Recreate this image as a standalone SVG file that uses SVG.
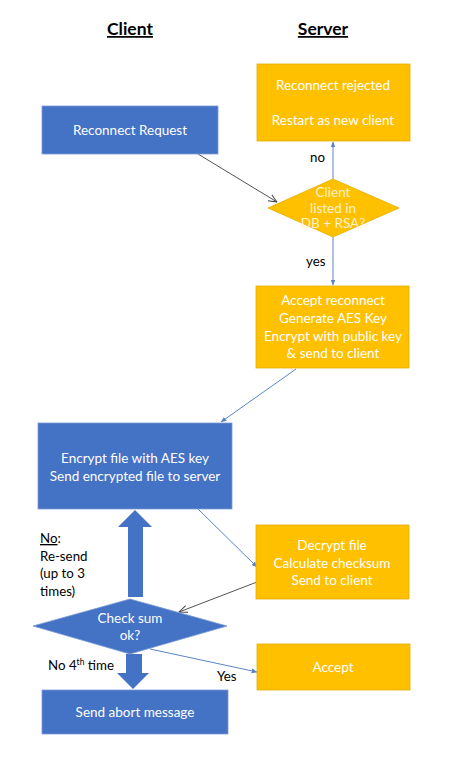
<svg xmlns="http://www.w3.org/2000/svg" width="471" height="766" viewBox="0 0 471 766">
<defs>
<style>
.t{font-family:Lato,"Open Sans","Liberation Sans",sans-serif;font-size:13.5px;fill:#fff;text-anchor:middle}
.tl{fill:#FFF2CC}
.lbl{font-family:Lato,"Open Sans","Liberation Sans",sans-serif;font-size:13.3px;fill:#000}
.h{font-family:Lato,"Open Sans","Liberation Sans",sans-serif;font-size:17.5px;font-weight:bold;fill:#000;text-anchor:middle;text-decoration:underline}
.blue{fill:#4472C4;stroke:#7A9BD6;stroke-width:0.8}
.org{fill:#FFC000;stroke:#E6AD00;stroke-width:0.8}
.cb{stroke:#5B84C8;stroke-width:1;fill:none}
.cg{stroke:#404040;stroke-width:0.9;fill:none}
</style>
<marker id="ab" viewBox="0 0 10 10" refX="9" refY="5" markerWidth="6" markerHeight="6" orient="auto" markerUnits="userSpaceOnUse">
<path d="M0,1 L10,5 L0,9 z" fill="#5B84C8"/>
</marker>
<marker id="ag" viewBox="0 0 10 10" refX="9.5" refY="5" markerWidth="9" markerHeight="9" orient="auto" markerUnits="userSpaceOnUse">
<path d="M0,1 L9.5,5 L0,9" fill="none" stroke="#404040" stroke-width="1.1"/>
</marker>
</defs>
<rect width="471" height="766" fill="#fff"/>
<g id="headings">
<text class="h" x="130" y="35">Client</text>
<text class="h" x="323" y="35">Server</text>
</g>
<g id="connectors">
<line class="cg" x1="198" y1="154" x2="277" y2="202" marker-end="url(#ag)"/>
<line class="cb" x1="333" y1="179" x2="333" y2="142" marker-end="url(#ab)"/>
<line class="cb" x1="333" y1="237" x2="333" y2="285" marker-end="url(#ab)"/>
<line class="cb" x1="296" y1="369" x2="221" y2="422" marker-end="url(#ab)"/>
<line class="cb" x1="198" y1="509" x2="257" y2="567" marker-end="url(#ab)"/>
<line class="cg" x1="257" y1="582" x2="179" y2="612" marker-end="url(#ag)"/>
<line class="cb" x1="150" y1="649" x2="257" y2="672" marker-end="url(#ab)"/>
<path id="resend-arrow" d="M128,597 L128,527 L118,527 L135,510 L152,527 L143,527 L143,597 Z" fill="#4472C4"/>
<path id="abort-arrow" d="M126,654 L126,673 L117,673 L133,689 L149,673 L142,673 L142,654 Z" fill="#4472C4"/>
</g>
<g id="labels">
<text class="lbl" x="310" y="162">no</text>
<text class="lbl" x="306" y="266">yes</text>
<text class="lbl" x="40" y="543"><tspan text-decoration="underline">No</tspan>:</text>
<text class="lbl" x="40" y="561">Re-send</text>
<text class="lbl" x="40" y="578">(up to 3</text>
<text class="lbl" x="40" y="596">times)</text>
<text class="lbl" x="48" y="670">No 4<tspan font-size="8.5" dy="-5">th</tspan><tspan dy="5"> time</tspan></text>
<text class="lbl" x="217" y="681">Yes</text>
</g>
<g id="reconnect-request">
<rect class="blue" x="42" y="106" width="176" height="48"/>
<text class="t" x="130" y="135">Reconnect Request</text>
</g>
<g id="reconnect-rejected">
<rect class="org" x="257" y="64" width="153" height="77"/>
<text class="t" x="333" y="90">Reconnect rejected</text>
<text class="t" x="333" y="125">Restart as new client</text>
</g>
<g id="client-listed">
<polygon class="org" points="333,179 399,208 333,237 268,208"/>
<text class="t tl" x="333" y="197">Client</text>
<text class="t tl" x="333" y="213">listed in</text>
<text class="t tl" x="333" y="228">DB + RSA?</text>
</g>
<g id="accept-reconnect">
<rect class="org" x="256" y="286" width="153" height="82"/>
<text class="t" x="333" y="305">Accept reconnect</text>
<text class="t" x="333" y="323">Generate AES Key</text>
<text class="t" x="333" y="341">Encrypt with public key</text>
<text class="t" x="333" y="358">&amp; send to client</text>
</g>
<g id="encrypt-file">
<rect class="blue" x="38" y="423" width="194" height="86"/>
<text class="t" x="135" y="463">Encrypt file with AES key</text>
<text class="t" x="135" y="481">Send encrypted file to server</text>
</g>
<g id="decrypt-file">
<rect class="org" x="256" y="525" width="153" height="74"/>
<text class="t" x="332" y="550">Decrypt file</text>
<text class="t" x="332" y="568">Calculate checksum</text>
<text class="t" x="332" y="585">Send to client</text>
</g>
<g id="check-sum">
<polygon class="blue" points="130,599 227,626 130,654 33,626"/>
<text class="t" x="130" y="623">Check sum</text>
<text class="t" x="130" y="640">ok?</text>
</g>
<g id="accept">
<rect class="org" x="257" y="644" width="153" height="46"/>
<text class="t" x="333" y="672">Accept</text>
</g>
<g id="send-abort">
<rect class="blue" x="42" y="690" width="186" height="44"/>
<text class="t" x="135" y="717">Send abort message</text>
</g>
</svg>
